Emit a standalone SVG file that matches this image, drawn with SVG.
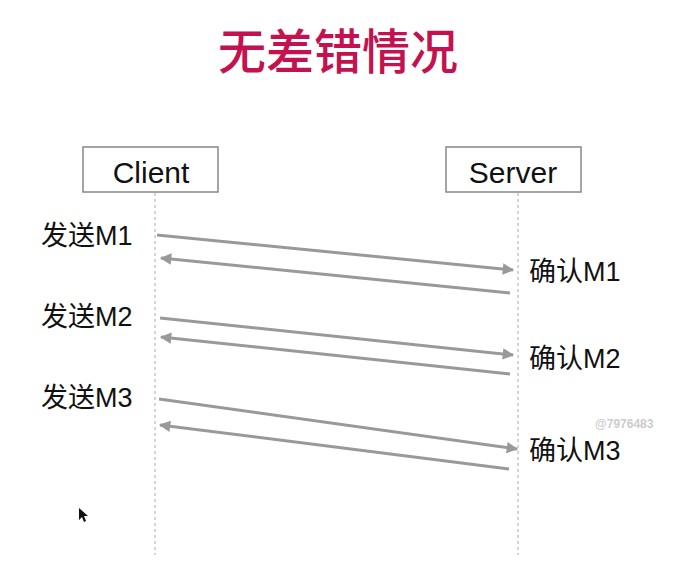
<svg xmlns="http://www.w3.org/2000/svg" width="694" height="581" viewBox="0 0 694 581">
<style>
.t{font-family:"Liberation Sans","Noto Sans CJK SC",sans-serif;fill:#111}
.box{fill:#fff;stroke:#888;stroke-width:1.5}
.life{stroke:#aaa;stroke-width:1;stroke-dasharray:3,3}
.msg{stroke:#999;stroke-width:3;fill:none;marker-end:url(#ah)}
</style>
<defs>
<marker id="ah" viewBox="0 0 10 10" refX="9" refY="5" markerWidth="4.4" markerHeight="3.8" orient="auto" markerUnits="strokeWidth">
<path d="M0,0 L10,5 L0,10 z" fill="#999"/>
</marker>
</defs>
<rect width="694" height="581" fill="#fff"/>
<text x="338" y="69" text-anchor="middle" font-family="'Noto Sans CJK SC',sans-serif" font-size="48" font-weight="500" fill="#C3124F">无差错情况</text>
<g id="client">
<rect class="box" x="83" y="147" width="135" height="45"/>
<text class="t" x="151" y="183" text-anchor="middle" font-size="30">Client</text>
<line class="life" x1="155" y1="193" x2="155" y2="555"/>
</g>
<g id="server">
<rect class="box" x="446" y="147" width="135" height="45"/>
<text class="t" x="513" y="183" text-anchor="middle" font-size="30">Server</text>
<line class="life" x1="518" y1="193" x2="518" y2="555"/>
</g>
<g id="connectors">
<line class="msg" x1="157" y1="235" x2="513" y2="270"/>
<line class="msg" x1="510" y1="293" x2="161" y2="258"/>
<line class="msg" x1="160" y1="318" x2="513" y2="355"/>
<line class="msg" x1="510" y1="374" x2="161" y2="337"/>
<line class="msg" x1="159" y1="399" x2="517" y2="449"/>
<line class="msg" x1="509" y1="469" x2="160" y2="425"/>
</g>
<g id="labels">
<text class="t" x="41" y="245" font-size="27">发送M1</text>
<text class="t" x="529" y="281" font-size="27">确认M1</text>
<text class="t" x="41" y="326" font-size="27">发送M2</text>
<text class="t" x="529" y="368" font-size="27">确认M2</text>
<text class="t" x="41" y="407" font-size="27">发送M3</text>
<text class="t" x="529" y="460" font-size="27">确认M3</text>
</g>
<text x="595" y="428" font-family="'Liberation Sans',sans-serif" font-size="12" font-weight="bold" fill="#ccc">@7976483</text>
<path d="M79,508 L79,520 L82,517 L84,522 L86,521 L84,516 L88,516 z" fill="#111"/>
</svg>
